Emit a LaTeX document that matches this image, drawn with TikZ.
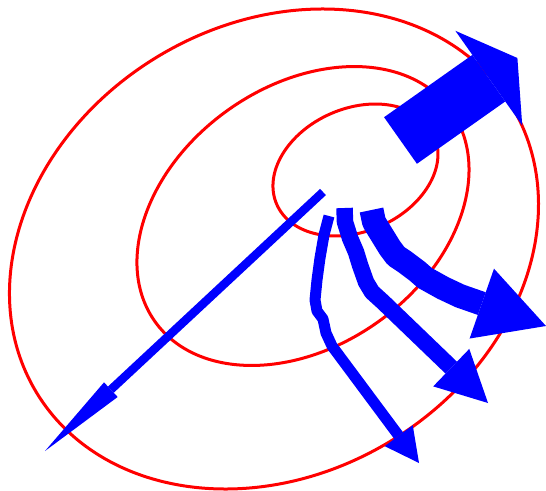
\documentclass[tikz,border=0pt]{standalone}
\usetikzlibrary{arrows.meta}
\begin{document}
\begin{tikzpicture}[x=1pt,y=-1pt,
  ring/.style={draw=red, line width=3pt},
  flow/.style={blue, line join=round, line cap=butt},
]
\useasboundingbox (0,0) rectangle (546,490);
% ellipse centres
\coordinate (c1) at (355.5,170);
\coordinate (c2) at (303,216);
\coordinate (c3) at (274,249);
\draw[ring, rotate around={23.5:(c1)}] (c1) ellipse [x radius=85.9, y radius=61.5];
\draw[ring, rotate around={35.6:(c2)}] (c2) ellipse [x radius=181.8, y radius=129.8];
\draw[ring, rotate around={31.1:(c3)}] (c3) ellipse [x radius=277.5, y radius=224.8];
% big arrow
\coordinate (bigS) at (400.5,140.5);
\coordinate (bigT) at (517.4,58);
\draw[flow, line width=57pt, -{Triangle[length=35pt,width=116pt,line width=0pt]}] (bigS) -- (bigT);
% long thin arrow
\coordinate (thinS) at (323,192);
\coordinate (thinT) at (45,451);
\draw[flow, line width=8.5pt, -{Triangle[length=90pt,width=20pt,line width=0pt]}] (thinS) -- (thinT);
% wavy arrow A
\coordinate (aS) at (329,216);
\coordinate (aT) at (419,463);
\draw[flow, line width=11pt, -{Triangle[length=34pt,width=35pt,line width=0pt]}]
  (aS) -- (324,235) -- (320,258) -- (317,280) -- (315,300) -- (317,311) -- (323,319) -- (326,333) -- (332,346) -- (aT);
% wavy arrow B
\coordinate (bS) at (344.5,208);
\coordinate (bT) at (488,403);
\draw[flow, line width=16.5pt, -{Triangle[length=51pt,width=52pt,line width=0pt]}]
  (bS) -- (345,222) -- (350,238) -- (356,252) -- (360,265) -- (366,282) -- (372,292) -- (383,302) -- (bT);
% wavy arrow C
\coordinate (cS) at (371.5,210);
\coordinate (cT) at (546,326);
\draw[flow, line width=24pt, -{Triangle[length=68pt,width=74pt,line width=0pt]}]
  (cS) -- (374,222) -- (382,235) -- (390,248) -- (396,256) -- (405,262) -- (417,271) -- (425,278) -- (443,288) -- (460,296) -- (cT);
\end{tikzpicture}
\end{document}
